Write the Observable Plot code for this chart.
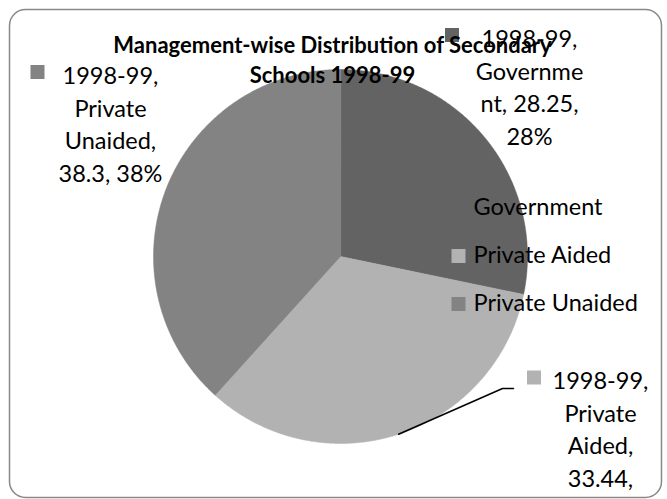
<!DOCTYPE html>
<html>
<head>
<meta charset="utf-8">
<script src="https://cdn.jsdelivr.net/npm/d3@7"></script>
<script src="https://cdn.jsdelivr.net/npm/@observablehq/plot@0.6"></script>
<style>
  html, body { margin: 0; padding: 0; background: #fff; }
  #chart { width: 667px; height: 499px; }
</style>
</head>
<body>
<div id="chart"></div>
<script>
// ---- data ----
const year = "1998-99";
const categories = ["Government", "Private Aided", "Private Unaided"];
const values = [28.25, 33.44, 38.3];
const percents = [28, 33, 38];
const colors = ["#636363", "#b2b2b2", "#838383"];
const titleText = "Management-wise Distribution of Secondary\nSchools 1998-99";
// data label text as wrapped in the original
const labelLines = [
  [year + ",", "Governme", "nt, " + values[0] + ",", percents[0] + "%"],
  [year + ",", "Private", "Aided,", values[1] + ","],
  [year + ",", "Private", "Unaided,", values[2] + ", " + percents[2] + "%"]
];

// ---- layout (pixels) ----
const W = 667, H = 499;
const cx = 340, cy = 256, R = 187;
const labelPos = [ {x: 529, y: 85, sx: 452, sy: 35}, {x: 600, y: 427, sx: 534, sy: 377.5}, {x: 110, y: 122, sx: 37.5, sy: 72} ];
const legendPos = {sx: 458.5, tx: 473, ys: [207, 255, 303]};
const SQ = 14;

// ---- pie geometry from values ----
const arcs = d3.pie().sort(null).value(d => d)(values);
const slices = arcs.map((a, i) => {
  const pts = [{x: cx, y: cy}];
  const n = Math.max(2, Math.ceil((a.endAngle - a.startAngle) / (Math.PI / 360)));
  for (let k = 0; k <= n; k++) {
    const t = a.startAngle + (a.endAngle - a.startAngle) * k / n;
    pts.push({x: cx + R * Math.sin(t), y: cy - R * Math.cos(t)});
  }
  return pts;
});
const aidedMid = (arcs[1].startAngle + arcs[1].endAngle) / 2;
const leader = [
  {x: cx + R * Math.sin(aidedMid), y: cy - R * Math.cos(aidedMid)},
  {x: 502, y: 388},
  {x: 513, y: 388}
];

const labels = categories.map((c, i) => ({
  text: labelLines[i].join("\n"), x: labelPos[i].x, y: labelPos[i].y,
  x1: labelPos[i].sx - SQ / 2, x2: labelPos[i].sx + SQ / 2,
  y1: labelPos[i].sy - SQ / 2, y2: labelPos[i].sy + SQ / 2, color: colors[i]
}));
const legend = categories.map((c, i) => ({
  text: c, x: legendPos.tx, y: legendPos.ys[i],
  x1: legendPos.sx - SQ / 2, x2: legendPos.sx + SQ / 2,
  y1: legendPos.ys[i] + 1 - SQ / 2, y2: legendPos.ys[i] + 1 + SQ / 2, color: colors[i]
}));

const marks = [];
slices.forEach((pts, i) => {
  marks.push(Plot.line(pts, {x: "x", y: "y", fill: colors[i], stroke: colors[i], strokeWidth: 0.5, curve: "linear-closed"}));
});
marks.push(Plot.line(leader, {x: "x", y: "y", stroke: "#000", strokeWidth: 1.5}));
marks.push(Plot.rect(labels, {x1: "x1", x2: "x2", y1: "y1", y2: "y2", fill: d => d.color}));
marks.push(Plot.text(labels, {x: "x", y: "y", text: "text", fontSize: 23.5, lineHeight: 1.4, lineAnchor: "middle", textAnchor: "middle", fill: "#000"}));
marks.push(Plot.rect(legend, {x1: "x1", x2: "x2", y1: "y1", y2: "y2", fill: d => d.color}));
marks.push(Plot.text(legend, {x: "x", y: "y", text: "text", fontSize: 23.5, lineAnchor: "middle", textAnchor: "start", fill: "#000"}));
marks.push(Plot.text([titleText], {x: () => 332, y: () => 58, text: d => d, fontSize: 22, fontWeight: "bold", lineHeight: 1.34, lineAnchor: "middle", textAnchor: "middle", fill: "#000"}));
marks.push(Plot.frame({rx: 16, stroke: "#888", strokeWidth: 1.5, insetLeft: 9, insetTop: 9, insetRight: 6, insetBottom: 2}));

const chart = Plot.plot({
  width: W, height: H,
  margin: 0,
  x: {domain: [0, W], range: [0, W], axis: null},
  y: {domain: [0, H], range: [0, H], axis: null},
  style: {fontFamily: "Lato, 'Open Sans', sans-serif", background: "#fff", color: "#000"},
  marks
});
document.getElementById("chart").appendChild(chart);
</script>
</body>
</html>
